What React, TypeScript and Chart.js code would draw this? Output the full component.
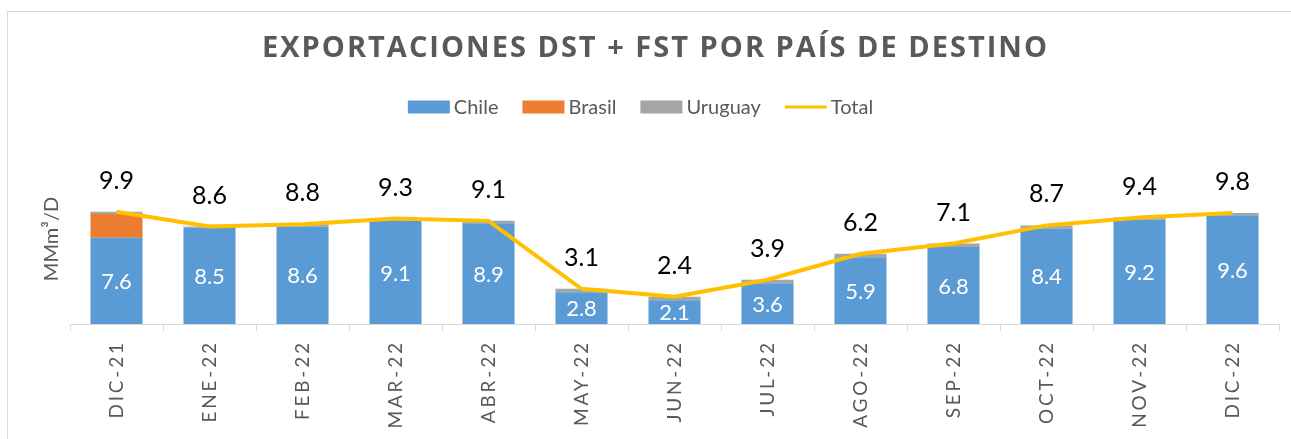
import React, { useEffect, useRef } from 'react';
import { Chart, registerables } from 'chart.js';

Chart.register(...registerables);

const categories = ['DIC-21', 'ENE-22', 'FEB-22', 'MAR-22', 'ABR-22', 'MAY-22', 'JUN-22', 'JUL-22', 'AGO-22', 'SEP-22', 'OCT-22', 'NOV-22', 'DIC-22'];
const chile = [7.6, 8.5, 8.6, 9.1, 8.9, 2.8, 2.1, 3.6, 5.9, 6.8, 8.4, 9.2, 9.6];
const brasil = [2.1, 0, 0, 0, 0, 0, 0, 0, 0, 0, 0, 0, 0];
const uruguay = [0.2, 0.1, 0.2, 0.2, 0.2, 0.3, 0.3, 0.3, 0.3, 0.3, 0.3, 0.2, 0.2];
const total = [9.9, 8.6, 8.8, 9.3, 9.1, 3.1, 2.4, 3.9, 6.2, 7.1, 8.7, 9.4, 9.8];
const seriesNames = ['Chile', 'Brasil', 'Uruguay', 'Total'];
const chartTitle = 'EXPORTACIONES DST + FST POR PAÍS DE DESTINO';
const yAxisTitle = 'MMm³/D';
const yMax = 15;

const COLORS = ['#5B9BD5', '#ED7D31', '#A5A5A5', '#FFC000'];
const GRAY_TEXT = '#595959';
const AXIS_GRAY = '#D9D9D9';
const FONT = 'Lato';

const CANVAS_W = 1294;
const CANVAS_H = 427;

export default function App() {
  const ref = useRef<HTMLCanvasElement>(null);

  useEffect(() => {
    const canvas = ref.current;
    if (!canvas) return;

    const deco = {
      id: 'deco',
      afterDraw(chart: any) {
        const ctx = chart.ctx as CanvasRenderingContext2D;
        // Title
        ctx.save();
        ctx.font = `bold 29px "Open Sans"`;
        ctx.fillStyle = GRAY_TEXT;
        ctx.textBaseline = 'middle';
        ctx.textAlign = 'left';
        (ctx as any).letterSpacing = '0px';
        const w0 = ctx.measureText(chartTitle).width;
        const targetW = 785;
        const ls = (targetW - w0) / (chartTitle.length - 1);
        (ctx as any).letterSpacing = `${ls}px`;
        ctx.fillText(chartTitle, 646.5 - targetW / 2, 37);
        (ctx as any).letterSpacing = '0px';
        ctx.restore();

        // Legend
        ctx.save();
        ctx.font = `20px ${FONT}`;
        ctx.textBaseline = 'middle';
        ctx.textAlign = 'left';
        const boxW = 42;
        const boxH = 13;
        const gap = 4;
        const spacing = 24;
        const widths = seriesNames.map((n) => boxW + gap + ctx.measureText(n).width);
        const totalW = widths.reduce((a, b) => a + b, 0) + spacing * (seriesNames.length - 1);
        let x = 632.5 - totalW / 2;
        const ly = 95;
        seriesNames.forEach((n, i) => {
          if (i < 3) {
            ctx.fillStyle = COLORS[i];
            ctx.fillRect(x, ly - boxH / 2, boxW, boxH);
          } else {
            ctx.strokeStyle = COLORS[i];
            ctx.lineWidth = 3;
            ctx.beginPath();
            ctx.moveTo(x, ly);
            ctx.lineTo(x + boxW, ly);
            ctx.stroke();
          }
          ctx.fillStyle = GRAY_TEXT;
          ctx.fillText(n, x + boxW + gap, ly + 1);
          x += widths[i] + spacing;
        });
        ctx.restore();

        // X labels
        const xs = chart.scales.x;
        ctx.save();
        ctx.font = `19px ${FONT}`;
        ctx.fillStyle = GRAY_TEXT;
        const lsx = 2.8;
        (ctx as any).letterSpacing = `${lsx}px`;
        categories.forEach((c, i) => {
          const px = xs.getPixelForValue(i);
          ctx.save();
          ctx.translate(px, 331);
          ctx.rotate(-Math.PI / 2);
          ctx.textAlign = 'right';
          ctx.textBaseline = 'middle';
          ctx.fillText(c, lsx, 0);
          ctx.restore();
        });
        (ctx as any).letterSpacing = '0px';
        ctx.restore();

        // Data labels
        ctx.save();
        ctx.textAlign = 'center';
        ctx.textBaseline = 'middle';
        const chileMeta = chart.getDatasetMeta(0);
        ctx.font = `22px ${FONT}`;
        ctx.fillStyle = '#FFFFFF';
        chileMeta.data.forEach((el: any, i: number) => {
          const p = el.getProps(['x', 'y', 'base'], true);
          ctx.fillText(chile[i].toFixed(1), p.x, (p.y + p.base) / 2 + 1);
        });
        const totalMeta = chart.getDatasetMeta(3);
        ctx.font = `25px ${FONT}`;
        ctx.fillStyle = '#000000';
        totalMeta.data.forEach((el: any, i: number) => {
          const p = el.getProps(['x', 'y'], true);
          ctx.fillText(total[i].toFixed(1), p.x, p.y - 31);
        });
        ctx.restore();
      },
    };

    const chart = new Chart(canvas, {
      type: 'bar',
      data: {
        labels: categories,
        datasets: [
          { type: 'bar', label: seriesNames[0], data: chile, backgroundColor: COLORS[0], stack: 'bars', order: 1, barPercentage: 0.56, categoryPercentage: 1 },
          { type: 'bar', label: seriesNames[1], data: brasil, backgroundColor: COLORS[1], stack: 'bars', order: 1, barPercentage: 0.56, categoryPercentage: 1 },
          { type: 'bar', label: seriesNames[2], data: uruguay, backgroundColor: COLORS[2], stack: 'bars', order: 1, barPercentage: 0.56, categoryPercentage: 1 },
          { type: 'line', label: seriesNames[3], data: total, borderColor: COLORS[3], backgroundColor: COLORS[3], borderWidth: 4, pointRadius: 0, tension: 0, stack: 'total', order: 0 } as any,
        ],
      },
      options: {
        responsive: false,
        animation: false,
        layout: { padding: { top: 142, right: CANVAS_W - 1271, left: 0, bottom: 0 } },
        plugins: { legend: { display: false }, title: { display: false }, tooltip: { enabled: false } },
        scales: {
          x: {
            stacked: true,
            offset: true,
            grid: { display: true, drawOnChartArea: false, drawTicks: true, tickLength: 7, color: AXIS_GRAY, offset: true },
            border: { display: true, color: AXIS_GRAY, width: 1 },
            ticks: { display: false },
            afterFit: (s: any) => { s.height = CANVAS_H - 312; },
          },
          y: {
            stacked: true,
            min: 0,
            max: yMax,
            grid: { display: false },
            border: { display: false },
            ticks: { display: false },
            title: { display: true, text: yAxisTitle, color: GRAY_TEXT, font: { family: FONT, size: 20 }, padding: { top: 32, bottom: 0 } },
            afterFit: (s: any) => { s.width = 62; },
          },
        },
      },
      plugins: [deco],
    } as any);

    return () => chart.destroy();
  }, []);

  return (
    <div style={{ position: 'fixed', left: 7, top: 11, width: 1300, height: 450, border: `1px solid ${AXIS_GRAY}`, boxSizing: 'border-box', background: '#fff' }}>
      <canvas ref={ref} width={CANVAS_W} height={CANVAS_H} style={{ position: 'absolute', left: 0, top: 0, display: 'block', width: CANVAS_W, height: CANVAS_H }} />
    </div>
  );
}
